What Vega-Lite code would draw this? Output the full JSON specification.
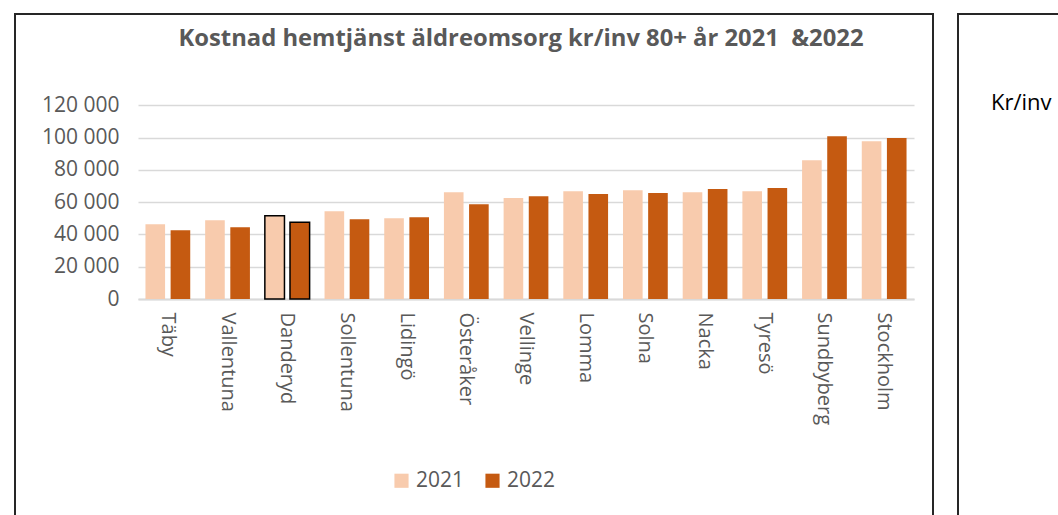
{
  "$schema": "https://vega.github.io/schema/vega-lite/v6.json",
  "padding": {"left": 14, "top": 12, "right": 0, "bottom": 0},
  "background": "white",
  "config": {
    "locale": {"number": {"decimal": ",", "thousands": " ", "grouping": [3], "currency": ["", " kr"]}},
    "view": {"stroke": "#262626", "strokeWidth": 2},
    "font": "Open Sans"
  },
  "spacing": 25,
  "bounds": "flush",
  "hconcat": [
    {
      "width": 918,
      "height": 520,
      "title": {
        "text": "Kostnad hemtjänst äldreomsorg kr/inv 80+ år 2021\u00a0\u00a0&2022",
        "font": "Open Sans",
        "fontSize": 23.8,
        "fontWeight": "bold",
        "color": "#595959",
        "anchor": "middle",
        "frame": "group",
        "baseline": "alphabetic",
        "offset": -55.5,
        "dx": 47
      },
      "data": {
        "values": [
          {"kommun": "Täby", "year": "2021", "value": 46300},
          {"kommun": "Täby", "year": "2022", "value": 42600},
          {"kommun": "Vallentuna", "year": "2021", "value": 48800},
          {"kommun": "Vallentuna", "year": "2022", "value": 44500},
          {"kommun": "Danderyd", "year": "2021", "value": 51500},
          {"kommun": "Danderyd", "year": "2022", "value": 47600},
          {"kommun": "Sollentuna", "year": "2021", "value": 54400},
          {"kommun": "Sollentuna", "year": "2022", "value": 49400},
          {"kommun": "Lidingö", "year": "2021", "value": 50100},
          {"kommun": "Lidingö", "year": "2022", "value": 50700},
          {"kommun": "Österåker", "year": "2021", "value": 66200},
          {"kommun": "Österåker", "year": "2022", "value": 58700},
          {"kommun": "Vellinge", "year": "2021", "value": 62500},
          {"kommun": "Vellinge", "year": "2022", "value": 63700},
          {"kommun": "Lomma", "year": "2021", "value": 66800},
          {"kommun": "Lomma", "year": "2022", "value": 65000},
          {"kommun": "Solna", "year": "2021", "value": 67400},
          {"kommun": "Solna", "year": "2022", "value": 65600},
          {"kommun": "Nacka", "year": "2021", "value": 66200},
          {"kommun": "Nacka", "year": "2022", "value": 68100},
          {"kommun": "Tyresö", "year": "2021", "value": 66800},
          {"kommun": "Tyresö", "year": "2022", "value": 68700},
          {"kommun": "Sundbyberg", "year": "2021", "value": 86000},
          {"kommun": "Sundbyberg", "year": "2022", "value": 100900},
          {"kommun": "Stockholm", "year": "2021", "value": 97800},
          {"kommun": "Stockholm", "year": "2022", "value": 99800}
        ]
      },
      "mark": {"type": "bar", "stroke": "#000000"},
      "encoding": {
        "x": {
          "field": "kommun",
          "type": "nominal",
          "sort": null,
          "scale": {"range": [123, 899], "paddingInner": 0.25, "paddingOuter": 0.125},
          "axis": {
            "title": null,
            "orient": "bottom",
            "offset": -235,
            "labelAngle": 90,
            "labelAlign": "left",
            "labelBaseline": "middle",
            "labelPadding": 13,
            "labelFont": "Open Sans",
            "labelFontSize": 20,
            "labelColor": "#595959",
            "ticks": false,
            "tickSize": 0,
            "grid": false,
            "domain": true,
            "domainColor": "#D9D9D9",
            "domainWidth": 2
          }
        },
        "xOffset": {
          "field": "year",
          "type": "nominal",
          "scale": {"paddingInner": 0.22, "paddingOuter": 0}
        },
        "y": {
          "field": "value",
          "type": "quantitative",
          "scale": {"domain": [0, 120000], "range": [285, 91.3], "nice": false, "zero": true},
          "axis": {
            "title": null,
            "orient": "left",
            "offset": -123,
            "values": [0, 20000, 40000, 60000, 80000, 100000, 120000],
            "format": ",d",
            "labelPadding": 19,
            "labelFont": "Open Sans",
            "labelFontSize": 21,
            "labelColor": "#595959",
            "ticks": false,
            "tickSize": 0,
            "domain": false,
            "grid": true,
            "gridColor": "#D9D9D9",
            "gridWidth": 1.5
          }
        },
        "color": {
          "field": "year",
          "type": "nominal",
          "scale": {"domain": ["2021", "2022"], "range": ["#F8CBAD", "#C55A11"]},
          "legend": {
            "title": null,
            "orient": "none",
            "direction": "horizontal",
            "legendX": 376,
            "legendY": 456,
            "padding": 0,
            "symbolType": "square",
            "symbolSize": 200,
            "symbolStrokeWidth": 0,
            "labelFont": "Open Sans",
            "labelFontSize": 21,
            "labelColor": "#595959",
            "labelOffset": 4,
            "columnPadding": 17
          }
        },
        "strokeWidth": {
          "condition": {"test": "datum.kommun === 'Danderyd'", "value": 1.5},
          "value": 0
        }
      }
    },
    {
      "width": 200,
      "height": 520,
      "view": {"stroke": "#262626", "strokeWidth": 2, "fill": "white"},
      "title": {
        "text": "Kr/inv",
        "font": "Open Sans",
        "fontSize": 22,
        "fontWeight": "normal",
        "color": "#000000",
        "anchor": "start",
        "frame": "group",
        "baseline": "alphabetic",
        "offset": -118.5,
        "dx": 33
      },
      "data": {"values": [{"k": "Kr/inv"}]},
      "mark": {"type": "rule", "opacity": 0},
      "encoding": {}
    }
  ]
}
